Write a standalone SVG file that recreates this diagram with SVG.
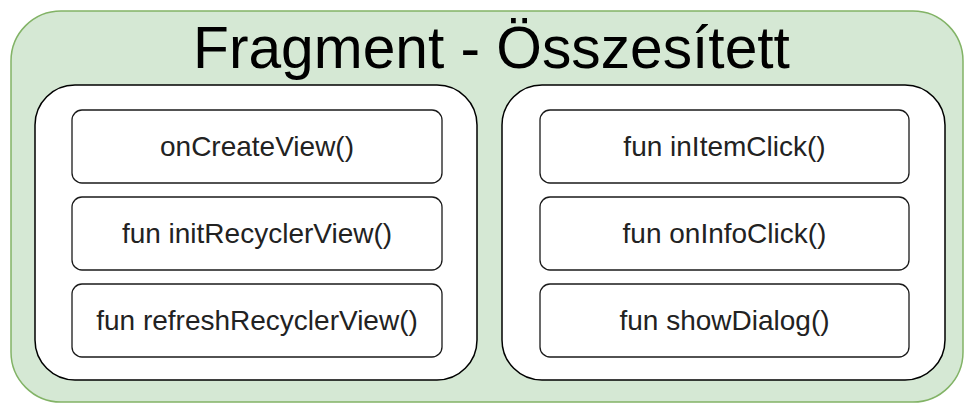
<svg xmlns="http://www.w3.org/2000/svg" width="964" height="403" viewBox="0 0 964 403">
  <style>
    .outer { fill: #d5e8d4; stroke: #82b366; stroke-width: 1.5; }
    .panel { fill: #ffffff; stroke: #000000; stroke-width: 1.5; }
    .method { fill: #ffffff; stroke: #1a1a1a; stroke-width: 1.3; }
    .title { font-family: "Liberation Sans", Arial, sans-serif; font-size: 58.7px; fill: #000000; text-anchor: middle; }
    .label { font-family: "Liberation Sans", Arial, sans-serif; font-size: 28px; fill: #222222; text-anchor: middle; }
  </style>
  <rect width="964" height="403" fill="#ffffff"/>

  <g id="fragment">
    <rect class="outer" x="11" y="11" width="952" height="391" rx="50" ry="50"/>
    <text class="title" x="491.5" y="68">Fragment - Összesített</text>
  </g>

  <g id="lifecycle-panel">
    <rect class="panel" x="35" y="85" width="442" height="295" rx="40" ry="40"/>
  </g>
  <g id="events-panel">
    <rect class="panel" x="502" y="85" width="443" height="295" rx="40" ry="40"/>
  </g>

  <g id="onCreateView">
    <rect class="method" x="72" y="110" width="370" height="73" rx="10" ry="10"/>
    <text class="label" x="257" y="156">onCreateView()</text>
  </g>
  <g id="initRecyclerView">
    <rect class="method" x="72" y="197" width="370" height="73" rx="10" ry="10"/>
    <text class="label" x="257" y="243">fun initRecyclerView()</text>
  </g>
  <g id="refreshRecyclerView">
    <rect class="method" x="72" y="284" width="370" height="73" rx="10" ry="10"/>
    <text class="label" x="257" y="330">fun refreshRecyclerView()</text>
  </g>

  <g id="inItemClick">
    <rect class="method" x="540" y="110" width="369" height="73" rx="10" ry="10"/>
    <text class="label" x="724.5" y="156">fun inItemClick()</text>
  </g>
  <g id="onInfoClick">
    <rect class="method" x="540" y="197" width="369" height="73" rx="10" ry="10"/>
    <text class="label" x="724.5" y="243">fun onInfoClick()</text>
  </g>
  <g id="showDialog">
    <rect class="method" x="540" y="284" width="369" height="73" rx="10" ry="10"/>
    <text class="label" x="724.5" y="330">fun showDialog()</text>
  </g>

  <g id="connectors"/>
</svg>
